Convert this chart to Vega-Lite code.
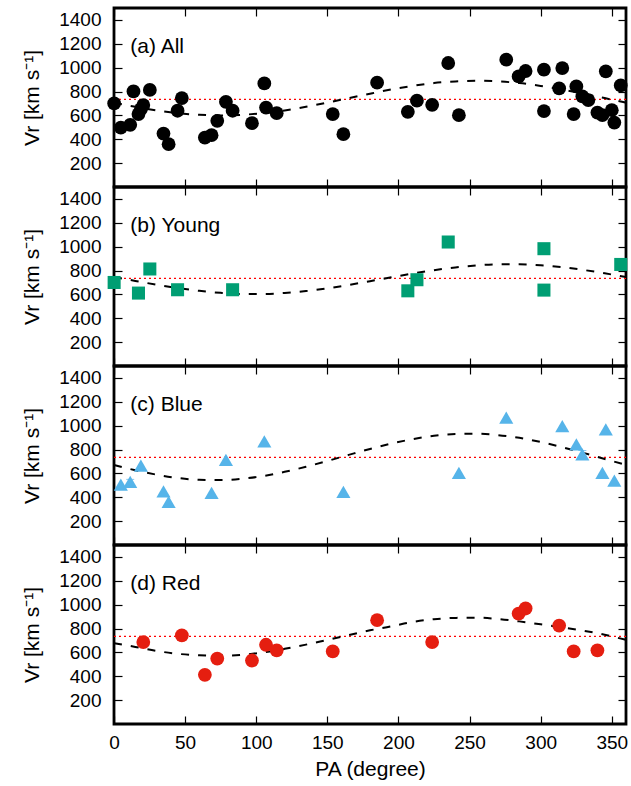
{
  "$schema": "https://vega.github.io/schema/vega-lite/v6.json",
  "padding": {"left": 20, "top": 6, "right": 4, "bottom": 2},
  "spacing": 0,
  "bounds": "flush",
  "datasets": {
    "ref": [{"v": 735}],
    "lab": [
      {"p": "a", "t": "(a) All"},
      {"p": "b", "t": "(b) Young"},
      {"p": "c", "t": "(c) Blue"},
      {"p": "d", "t": "(d) Red"}
    ],
    "err": [
      {"p": "a", "pa": 11.4, "lo": 492, "hi": 550},
      {"p": "a", "pa": 13.7, "lo": 760, "hi": 845},
      {"p": "a", "pa": 302.3, "lo": 940, "hi": 1025},
      {"p": "a", "pa": 329.3, "lo": 725, "hi": 792},
      {"p": "c", "pa": 11.4, "lo": 492, "hi": 550},
      {"p": "c", "pa": 329.3, "lo": 725, "hi": 792}
    ],
    "pts": [
      {"p": "a", "pa": 0.1, "v": 700}, {"p": "a", "pa": 4.8, "v": 498}, {"p": "a", "pa": 11.4, "v": 521},
      {"p": "a", "pa": 13.7, "v": 801}, {"p": "a", "pa": 17.2, "v": 611}, {"p": "a", "pa": 18.9, "v": 653},
      {"p": "a", "pa": 20.6, "v": 687}, {"p": "a", "pa": 25.2, "v": 813}, {"p": "a", "pa": 34.8, "v": 448},
      {"p": "a", "pa": 38.4, "v": 359}, {"p": "a", "pa": 44.7, "v": 639}, {"p": "a", "pa": 47.7, "v": 745},
      {"p": "a", "pa": 63.9, "v": 414}, {"p": "a", "pa": 68.6, "v": 434}, {"p": "a", "pa": 72.6, "v": 555},
      {"p": "a", "pa": 78.7, "v": 714}, {"p": "a", "pa": 83.4, "v": 639}, {"p": "a", "pa": 97.0, "v": 535},
      {"p": "a", "pa": 105.7, "v": 868}, {"p": "a", "pa": 106.9, "v": 666}, {"p": "a", "pa": 114.4, "v": 619},
      {"p": "a", "pa": 153.8, "v": 611}, {"p": "a", "pa": 161.3, "v": 443}, {"p": "a", "pa": 185.0, "v": 874},
      {"p": "a", "pa": 206.6, "v": 630}, {"p": "a", "pa": 213.0, "v": 723}, {"p": "a", "pa": 223.7, "v": 689},
      {"p": "a", "pa": 235.0, "v": 1039}, {"p": "a", "pa": 242.5, "v": 602}, {"p": "a", "pa": 275.8, "v": 1067},
      {"p": "a", "pa": 284.5, "v": 927}, {"p": "a", "pa": 289.4, "v": 972}, {"p": "a", "pa": 302.3, "v": 983},
      {"p": "a", "pa": 302.3, "v": 636}, {"p": "a", "pa": 313.0, "v": 826}, {"p": "a", "pa": 315.2, "v": 997},
      {"p": "a", "pa": 323.2, "v": 611}, {"p": "a", "pa": 325.1, "v": 843}, {"p": "a", "pa": 329.3, "v": 759},
      {"p": "a", "pa": 333.5, "v": 728}, {"p": "a", "pa": 339.9, "v": 624}, {"p": "a", "pa": 343.4, "v": 602},
      {"p": "a", "pa": 345.8, "v": 969}, {"p": "a", "pa": 350.0, "v": 644}, {"p": "a", "pa": 351.8, "v": 540},
      {"p": "a", "pa": 356.3, "v": 851},

      {"p": "b", "pa": 0.1, "v": 700}, {"p": "b", "pa": 17.2, "v": 611}, {"p": "b", "pa": 25.2, "v": 813},
      {"p": "b", "pa": 44.7, "v": 639}, {"p": "b", "pa": 83.4, "v": 639}, {"p": "b", "pa": 206.6, "v": 630},
      {"p": "b", "pa": 213.0, "v": 723}, {"p": "b", "pa": 235.0, "v": 1039}, {"p": "b", "pa": 302.3, "v": 983},
      {"p": "b", "pa": 302.3, "v": 636}, {"p": "b", "pa": 356.3, "v": 851},

      {"p": "c", "pa": 4.8, "v": 505}, {"p": "c", "pa": 11.4, "v": 530}, {"p": "c", "pa": 18.9, "v": 665},
      {"p": "c", "pa": 34.8, "v": 450}, {"p": "c", "pa": 38.4, "v": 362}, {"p": "c", "pa": 68.6, "v": 436},
      {"p": "c", "pa": 78.7, "v": 714}, {"p": "c", "pa": 105.7, "v": 868}, {"p": "c", "pa": 161.3, "v": 445},
      {"p": "c", "pa": 242.5, "v": 604}, {"p": "c", "pa": 275.8, "v": 1067}, {"p": "c", "pa": 315.2, "v": 997},
      {"p": "c", "pa": 325.1, "v": 843}, {"p": "c", "pa": 329.3, "v": 759}, {"p": "c", "pa": 343.4, "v": 604},
      {"p": "c", "pa": 345.8, "v": 969}, {"p": "c", "pa": 351.8, "v": 540},

      {"p": "d", "pa": 20.6, "v": 687}, {"p": "d", "pa": 47.7, "v": 743}, {"p": "d", "pa": 63.9, "v": 412},
      {"p": "d", "pa": 72.6, "v": 548}, {"p": "d", "pa": 97.0, "v": 532}, {"p": "d", "pa": 106.9, "v": 664},
      {"p": "d", "pa": 114.4, "v": 617}, {"p": "d", "pa": 153.8, "v": 608}, {"p": "d", "pa": 185.0, "v": 870},
      {"p": "d", "pa": 223.7, "v": 687}, {"p": "d", "pa": 284.5, "v": 925}, {"p": "d", "pa": 289.4, "v": 968},
      {"p": "d", "pa": 313.0, "v": 825}, {"p": "d", "pa": 323.2, "v": 608}, {"p": "d", "pa": 339.9, "v": 617}
    ],
    "fit": [
      {"p": "a", "pa": 0, "v": 707}, {"p": "a", "pa": 15, "v": 672}, {"p": "a", "pa": 30, "v": 642},
      {"p": "a", "pa": 45, "v": 619}, {"p": "a", "pa": 60, "v": 605}, {"p": "a", "pa": 75, "v": 600},
      {"p": "a", "pa": 90, "v": 605}, {"p": "a", "pa": 105, "v": 619}, {"p": "a", "pa": 120, "v": 642},
      {"p": "a", "pa": 135, "v": 672}, {"p": "a", "pa": 150, "v": 707}, {"p": "a", "pa": 165, "v": 745},
      {"p": "a", "pa": 180, "v": 782}, {"p": "a", "pa": 195, "v": 817}, {"p": "a", "pa": 210, "v": 847},
      {"p": "a", "pa": 225, "v": 871}, {"p": "a", "pa": 240, "v": 885}, {"p": "a", "pa": 255, "v": 890},
      {"p": "a", "pa": 270, "v": 885}, {"p": "a", "pa": 285, "v": 871}, {"p": "a", "pa": 300, "v": 847},
      {"p": "a", "pa": 315, "v": 817}, {"p": "a", "pa": 330, "v": 782}, {"p": "a", "pa": 345, "v": 745},
      {"p": "a", "pa": 360, "v": 707},

      {"p": "b", "pa": 0, "v": 745}, {"p": "b", "pa": 15, "v": 713}, {"p": "b", "pa": 30, "v": 681},
      {"p": "b", "pa": 45, "v": 653}, {"p": "b", "pa": 60, "v": 630}, {"p": "b", "pa": 75, "v": 613},
      {"p": "b", "pa": 90, "v": 604}, {"p": "b", "pa": 105, "v": 604}, {"p": "b", "pa": 120, "v": 612},
      {"p": "b", "pa": 135, "v": 628}, {"p": "b", "pa": 150, "v": 651}, {"p": "b", "pa": 165, "v": 679},
      {"p": "b", "pa": 180, "v": 711}, {"p": "b", "pa": 195, "v": 743}, {"p": "b", "pa": 210, "v": 775},
      {"p": "b", "pa": 225, "v": 803}, {"p": "b", "pa": 240, "v": 826}, {"p": "b", "pa": 255, "v": 843},
      {"p": "b", "pa": 270, "v": 852}, {"p": "b", "pa": 285, "v": 852}, {"p": "b", "pa": 300, "v": 844},
      {"p": "b", "pa": 315, "v": 828}, {"p": "b", "pa": 330, "v": 805}, {"p": "b", "pa": 345, "v": 777},
      {"p": "b", "pa": 360, "v": 745},

      {"p": "c", "pa": 0, "v": 671}, {"p": "c", "pa": 15, "v": 626}, {"p": "c", "pa": 30, "v": 589},
      {"p": "c", "pa": 45, "v": 561}, {"p": "c", "pa": 60, "v": 546}, {"p": "c", "pa": 75, "v": 544},
      {"p": "c", "pa": 90, "v": 555}, {"p": "c", "pa": 105, "v": 578}, {"p": "c", "pa": 120, "v": 613},
      {"p": "c", "pa": 135, "v": 656}, {"p": "c", "pa": 150, "v": 704}, {"p": "c", "pa": 165, "v": 755},
      {"p": "c", "pa": 180, "v": 805}, {"p": "c", "pa": 195, "v": 850}, {"p": "c", "pa": 210, "v": 887},
      {"p": "c", "pa": 225, "v": 915}, {"p": "c", "pa": 240, "v": 930}, {"p": "c", "pa": 255, "v": 932},
      {"p": "c", "pa": 270, "v": 921}, {"p": "c", "pa": 285, "v": 898}, {"p": "c", "pa": 300, "v": 863},
      {"p": "c", "pa": 315, "v": 820}, {"p": "c", "pa": 330, "v": 772}, {"p": "c", "pa": 345, "v": 721},
      {"p": "c", "pa": 360, "v": 671},

      {"p": "d", "pa": 0, "v": 677}, {"p": "d", "pa": 15, "v": 646}, {"p": "d", "pa": 30, "v": 612},
      {"p": "d", "pa": 45, "v": 588}, {"p": "d", "pa": 60, "v": 576}, {"p": "d", "pa": 75, "v": 573},
      {"p": "d", "pa": 90, "v": 580}, {"p": "d", "pa": 105, "v": 600}, {"p": "d", "pa": 120, "v": 630},
      {"p": "d", "pa": 135, "v": 665}, {"p": "d", "pa": 150, "v": 705}, {"p": "d", "pa": 165, "v": 745},
      {"p": "d", "pa": 180, "v": 785}, {"p": "d", "pa": 195, "v": 818}, {"p": "d", "pa": 210, "v": 855},
      {"p": "d", "pa": 225, "v": 878}, {"p": "d", "pa": 240, "v": 889}, {"p": "d", "pa": 255, "v": 891},
      {"p": "d", "pa": 270, "v": 880}, {"p": "d", "pa": 285, "v": 860}, {"p": "d", "pa": 300, "v": 835},
      {"p": "d", "pa": 315, "v": 810}, {"p": "d", "pa": 330, "v": 782}, {"p": "d", "pa": 345, "v": 748},
      {"p": "d", "pa": 360, "v": 705}
    ]
  },
  "vconcat": [
    {
      "width": 512, "height": 179,
      "layer": [
        {"data": {"name": "ref"}, "mark": {"type": "rule", "color": "#ff0000", "strokeDash": [2, 3], "strokeWidth": 1.3},
         "encoding": {"y": {"field": "v", "type": "quantitative", "scale": {"domain": [0, 1500], "nice": false}, "axis": null}}},
        {"data": {"name": "fit"}, "transform": [{"filter": "datum.p === 'a'"}],
         "mark": {"type": "line", "color": "black", "strokeDash": [8, 9], "strokeWidth": 2, "interpolate": "monotone"},
         "encoding": {
           "x": {"field": "pa", "type": "quantitative", "scale": {"domain": [0, 360], "nice": false}, "axis": {"orient": "top", "labels": false, "title": null, "values": [0, 50, 100, 150, 200, 250, 300, 350]}},
           "y": {"field": "v", "type": "quantitative", "scale": {"domain": [0, 1500], "nice": false}, "axis": {"orient": "right", "labels": false, "title": null, "values": [200, 400, 600, 800, 1000, 1200, 1400]}}}},
        {"data": {"name": "err"}, "transform": [{"filter": "datum.p === 'a'"}],
         "mark": {"type": "errorbar", "ticks": {"size": 8}, "color": "black"},
         "encoding": {
           "x": {"field": "pa", "type": "quantitative", "axis": null},
           "y": {"field": "lo", "type": "quantitative", "axis": null},
           "y2": {"field": "hi"}}},
        {"data": {"name": "pts"}, "transform": [{"filter": "datum.p === 'a'"}],
         "mark": {"type": "point", "shape": "circle", "filled": true, "color": "black", "opacity": 1, "size": 190},
         "encoding": {
           "x": {"field": "pa", "type": "quantitative", "axis": {"orient": "bottom", "labels": false, "title": null, "values": [0, 50, 100, 150, 200, 250, 300, 350]}},
           "y": {"field": "v", "type": "quantitative", "axis": {"orient": "left", "title": "Vr [km s⁻¹]", "format": "d", "values": [200, 400, 600, 800, 1000, 1200, 1400]}}}},
        {"data": {"name": "lab"}, "transform": [{"filter": "datum.p === 'a'"}],
         "mark": {"type": "text", "align": "left", "baseline": "alphabetic", "fontSize": 21, "font": "Liberation Sans", "color": "black"},
         "encoding": {
           "x": {"datum": 11.5, "type": "quantitative", "axis": null},
           "y": {"datum": 1125, "type": "quantitative", "axis": null},
           "text": {"field": "t"}}}
      ],
      "resolve": {"axis": {"x": "independent", "y": "independent"}}
    },
    {
      "width": 512, "height": 179,
      "layer": [
        {"data": {"name": "ref"}, "mark": {"type": "rule", "color": "#ff0000", "strokeDash": [2, 3], "strokeWidth": 1.3},
         "encoding": {"y": {"field": "v", "type": "quantitative", "scale": {"domain": [0, 1500], "nice": false}, "axis": null}}},
        {"data": {"name": "fit"}, "transform": [{"filter": "datum.p === 'b'"}],
         "mark": {"type": "line", "color": "black", "strokeDash": [8, 9], "strokeWidth": 2, "interpolate": "monotone"},
         "encoding": {
           "x": {"field": "pa", "type": "quantitative", "scale": {"domain": [0, 360], "nice": false}, "axis": {"orient": "top", "labels": false, "title": null, "values": [0, 50, 100, 150, 200, 250, 300, 350]}},
           "y": {"field": "v", "type": "quantitative", "scale": {"domain": [0, 1500], "nice": false}, "axis": {"orient": "right", "labels": false, "title": null, "values": [200, 400, 600, 800, 1000, 1200, 1400]}}}},
        {"data": {"name": "pts"}, "transform": [{"filter": "datum.p === 'b'"}],
         "mark": {"type": "point", "shape": "square", "filled": true, "color": "#009e73", "opacity": 1, "size": 170},
         "encoding": {
           "x": {"field": "pa", "type": "quantitative", "axis": {"orient": "bottom", "labels": false, "title": null, "values": [0, 50, 100, 150, 200, 250, 300, 350]}},
           "y": {"field": "v", "type": "quantitative", "axis": {"orient": "left", "title": "Vr [km s⁻¹]", "format": "d", "values": [200, 400, 600, 800, 1000, 1200, 1400]}}}},
        {"data": {"name": "lab"}, "transform": [{"filter": "datum.p === 'b'"}],
         "mark": {"type": "text", "align": "left", "baseline": "alphabetic", "fontSize": 21, "font": "Liberation Sans", "color": "black"},
         "encoding": {
           "x": {"datum": 11.5, "type": "quantitative", "axis": null},
           "y": {"datum": 1125, "type": "quantitative", "axis": null},
           "text": {"field": "t"}}}
      ],
      "resolve": {"axis": {"x": "independent", "y": "independent"}}
    },
    {
      "width": 512, "height": 179,
      "layer": [
        {"data": {"name": "ref"}, "mark": {"type": "rule", "color": "#ff0000", "strokeDash": [2, 3], "strokeWidth": 1.3},
         "encoding": {"y": {"field": "v", "type": "quantitative", "scale": {"domain": [0, 1500], "nice": false}, "axis": null}}},
        {"data": {"name": "fit"}, "transform": [{"filter": "datum.p === 'c'"}],
         "mark": {"type": "line", "color": "black", "strokeDash": [8, 9], "strokeWidth": 2, "interpolate": "monotone"},
         "encoding": {
           "x": {"field": "pa", "type": "quantitative", "scale": {"domain": [0, 360], "nice": false}, "axis": {"orient": "top", "labels": false, "title": null, "values": [0, 50, 100, 150, 200, 250, 300, 350]}},
           "y": {"field": "v", "type": "quantitative", "scale": {"domain": [0, 1500], "nice": false}, "axis": {"orient": "right", "labels": false, "title": null, "values": [200, 400, 600, 800, 1000, 1200, 1400]}}}},
        {"data": {"name": "err"}, "transform": [{"filter": "datum.p === 'c'"}],
         "mark": {"type": "errorbar", "ticks": {"size": 8}, "color": "#56b4e9"},
         "encoding": {
           "x": {"field": "pa", "type": "quantitative", "axis": null},
           "y": {"field": "lo", "type": "quantitative", "axis": null},
           "y2": {"field": "hi"}}},
        {"data": {"name": "pts"}, "transform": [{"filter": "datum.p === 'c'"}],
         "mark": {"type": "point", "shape": "triangle-up", "filled": true, "color": "#56b4e9", "opacity": 1, "size": 200},
         "encoding": {
           "x": {"field": "pa", "type": "quantitative", "axis": {"orient": "bottom", "labels": false, "title": null, "values": [0, 50, 100, 150, 200, 250, 300, 350]}},
           "y": {"field": "v", "type": "quantitative", "axis": {"orient": "left", "title": "Vr [km s⁻¹]", "format": "d", "values": [200, 400, 600, 800, 1000, 1200, 1400]}}}},
        {"data": {"name": "lab"}, "transform": [{"filter": "datum.p === 'c'"}],
         "mark": {"type": "text", "align": "left", "baseline": "alphabetic", "fontSize": 21, "font": "Liberation Sans", "color": "black"},
         "encoding": {
           "x": {"datum": 11.5, "type": "quantitative", "axis": null},
           "y": {"datum": 1125, "type": "quantitative", "axis": null},
           "text": {"field": "t"}}}
      ],
      "resolve": {"axis": {"x": "independent", "y": "independent"}}
    },
    {
      "width": 512, "height": 179,
      "layer": [
        {"data": {"name": "ref"}, "mark": {"type": "rule", "color": "#ff0000", "strokeDash": [2, 3], "strokeWidth": 1.3},
         "encoding": {"y": {"field": "v", "type": "quantitative", "scale": {"domain": [0, 1500], "nice": false}, "axis": null}}},
        {"data": {"name": "fit"}, "transform": [{"filter": "datum.p === 'd'"}],
         "mark": {"type": "line", "color": "black", "strokeDash": [8, 9], "strokeWidth": 2, "interpolate": "monotone"},
         "encoding": {
           "x": {"field": "pa", "type": "quantitative", "scale": {"domain": [0, 360], "nice": false}, "axis": {"orient": "top", "labels": false, "title": null, "values": [0, 50, 100, 150, 200, 250, 300, 350]}},
           "y": {"field": "v", "type": "quantitative", "scale": {"domain": [0, 1500], "nice": false}, "axis": {"orient": "right", "labels": false, "title": null, "values": [200, 400, 600, 800, 1000, 1200, 1400]}}}},
        {"data": {"name": "pts"}, "transform": [{"filter": "datum.p === 'd'"}],
         "mark": {"type": "point", "shape": "circle", "filled": true, "color": "#e51e10", "opacity": 1, "size": 190},
         "encoding": {
           "x": {"field": "pa", "type": "quantitative", "axis": {"orient": "bottom", "title": "PA (degree)", "values": [0, 50, 100, 150, 200, 250, 300, 350]}},
           "y": {"field": "v", "type": "quantitative", "axis": {"orient": "left", "title": "Vr [km s⁻¹]", "format": "d", "values": [200, 400, 600, 800, 1000, 1200, 1400]}}}},
        {"data": {"name": "lab"}, "transform": [{"filter": "datum.p === 'd'"}],
         "mark": {"type": "text", "align": "left", "baseline": "alphabetic", "fontSize": 21, "font": "Liberation Sans", "color": "black"},
         "encoding": {
           "x": {"datum": 11.5, "type": "quantitative", "axis": null},
           "y": {"datum": 1125, "type": "quantitative", "axis": null},
           "text": {"field": "t"}}}
      ],
      "resolve": {"axis": {"x": "independent", "y": "independent"}}
    }
  ],
  "config": {
    "font": "Liberation Sans",
    "view": {"stroke": "black", "strokeWidth": 2.8},
    "axis": {
      "domain": false, "grid": false,
      "tickSize": -8, "tickWidth": 1.2, "tickColor": "black",
      "labelFont": "Liberation Sans", "labelFontSize": 19, "labelColor": "black",
      "labelFlush": false, "labelOverlap": false,
      "titleFont": "Liberation Sans", "titleFontSize": 21, "titleFontWeight": "normal", "titleColor": "black"
    },
    "axisY": {"labelPadding": 21, "titlePadding": 16},
    "axisX": {"labelPadding": 17, "titlePadding": 6}
  }
}
